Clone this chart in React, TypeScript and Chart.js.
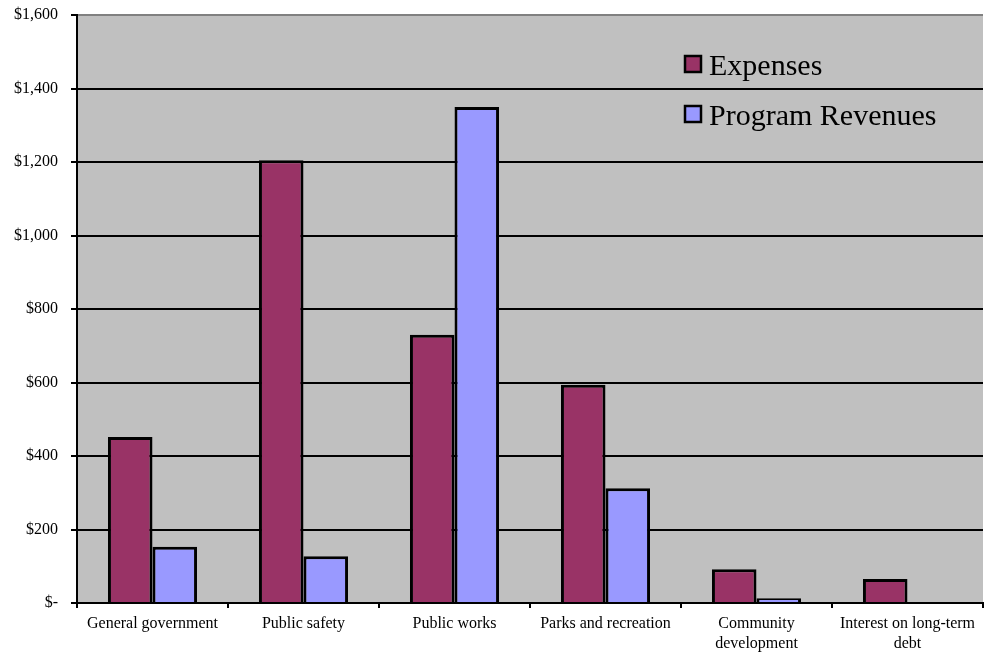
import React, { useEffect, useRef } from "react";
import { Chart, registerables } from "chart.js";

Chart.register(...registerables);

const categories: (string | string[])[] = [
  "General government",
  "Public safety",
  "Public works",
  "Parks and recreation",
  ["Community", "development"],
  ["Interest on long-term", "debt"],
];
const expenses = [452, 1205, 730, 594, 92, 65];
const programRevenues = [153, 127, 1350, 312, 13, 0];
const seriesNames = ["Expenses", "Program Revenues"];
const seriesColors = ["#993366", "#9999FF"];
const yMax = 1600;
const yStep = 200;

const FONT = "'Liberation Serif', 'Times New Roman', serif";

const bgPlugin = {
  id: "plotBg",
  beforeDraw(chart: any) {
    const { ctx, chartArea } = chart;
    ctx.save();
    ctx.fillStyle = "#C0C0C0";
    ctx.fillRect(chartArea.left, chartArea.top, chartArea.right - chartArea.left, chartArea.bottom - chartArea.top);
    ctx.restore();
  },
};

const legendPlugin = {
  id: "customLegend",
  afterDraw(chart: any) {
    const { ctx, chartArea } = chart;
    const x0 = chartArea.right - 298;
    const rows = [chartArea.top + 41, chartArea.top + 91];
    ctx.save();
    seriesNames.forEach((name, i) => {
      const y = rows[i];
      ctx.fillStyle = seriesColors[i];
      ctx.fillRect(x0, y, 16, 16);
      ctx.lineWidth = 2.5;
      ctx.strokeStyle = "#000";
      ctx.strokeRect(x0, y, 16, 16);
      ctx.fillStyle = "#000";
      ctx.font = `30px ${FONT}`;
      ctx.textBaseline = "alphabetic";
      ctx.textAlign = "left";
      ctx.fillText(name, x0 + 24, y + 19);
    });
    ctx.restore();
  },
};

export default function App() {
  const ref = useRef<HTMLCanvasElement | null>(null);
  useEffect(() => {
    if (!ref.current) return;
    const chart = new Chart(ref.current, {
      type: "bar",
      data: {
        labels: categories as any,
        datasets: [
          {
            label: seriesNames[0],
            data: expenses,
            backgroundColor: seriesColors[0],
            borderColor: "#000",
            borderWidth: 3,
            categoryPercentage: 0.59,
            barPercentage: 1,
          },
          {
            label: seriesNames[1],
            data: programRevenues,
            backgroundColor: seriesColors[1],
            borderColor: "#000",
            borderWidth: 3,
            categoryPercentage: 0.59,
            barPercentage: 1,
          },
        ],
      },
      options: {
        responsive: false,
        animation: false,
        layout: { padding: { top: 15, right: 1, bottom: 0, left: 0 } },
        plugins: {
          legend: { display: false },
          tooltip: { enabled: false },
        },
        scales: {
          x: {
            grid: {
              display: true,
              drawOnChartArea: false,
              drawTicks: true,
              tickLength: 5,
              tickColor: "#000",
              lineWidth: 2,
              offset: true,
            },
            border: { display: true, color: "#000", width: 2 },
            ticks: {
              color: "#000",
              font: { family: FONT, size: 16, lineHeight: 1.25 },
              maxRotation: 0,
              autoSkip: false,
              padding: 6,
            },
            afterFit(scale: any) {
              scale.height = 51;
              scale.paddingLeft = 0;
              scale.paddingRight = 0;
            },
          },
          y: {
            min: 0,
            max: yMax,
            ticks: {
              stepSize: yStep,
              color: "#000",
              font: { family: FONT, size: 16 },
              padding: 13,
              callback: (v: any) => (Number(v) === 0 ? "$-" : "$" + Number(v).toLocaleString("en-US")),
            },
            grid: {
              color: (c: any) => (c.tick && c.tick.value === yMax ? "#808080" : "#000"),
              lineWidth: 2,
              tickLength: 6,
              tickColor: "#000",
            },
            border: { display: true, color: "#000", width: 2 },
            afterFit(scale: any) {
              scale.width = 77;
              scale.paddingTop = 0;
              scale.paddingBottom = 0;
            },
          },
        },
      },
      plugins: [bgPlugin, legendPlugin],
    });
    return () => chart.destroy();
  }, []);
  return (
    <div style={{ position: "fixed", left: 0, top: 0, width: 984, height: 654, background: "#fff" }}>
      <canvas ref={ref} width={984} height={654} style={{ display: "block" }} />
    </div>
  );
}
